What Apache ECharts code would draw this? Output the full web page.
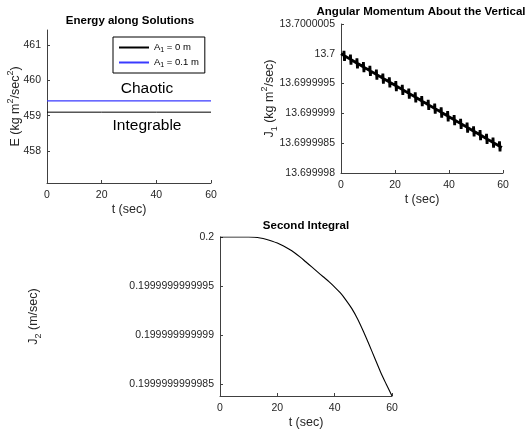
<!DOCTYPE html>
<html>
<head>
<meta charset="utf-8">
<script src="https://cdn.jsdelivr.net/npm/echarts@6/dist/echarts.min.js"></script>
<style>
  html, body { margin: 0; padding: 0; background: #fff; }
  #main { width: 528px; height: 430px; }
</style>
</head>
<body>
<div id="main"></div>
<script>
// --- data ---
// energy (constant along both solutions)
var tE = [0, 20, 40, 60];
var energyA0 = [459.1, 459.1, 459.1, 459.1];
var energyA01 = [459.42, 459.42, 459.42, 459.42];
var energyTicks = [458, 459, 460, 461];

// J1: offset from 13.7, in units of 1e-7 (slow drift with short spikes)
var tJ1 = [0,
  1.0, 1.1, 1.3, 1.4, 3.4, 3.5, 3.7, 3.8, 5.8, 5.9, 6.1, 6.2, 8.2, 8.3, 8.5, 8.6,
  10.6, 10.7, 10.9, 11.0, 13.0, 13.1, 13.3, 13.4, 15.4, 15.5, 15.7, 15.8, 17.8, 17.9, 18.1, 18.2,
  20.2, 20.3, 20.5, 20.6, 22.6, 22.7, 22.9, 23.0, 25.0, 25.1, 25.3, 25.4, 27.4, 27.5, 27.7, 27.8,
  29.8, 29.9, 30.1, 30.2, 32.2, 32.3, 32.5, 32.6, 34.6, 34.7, 34.9, 35.0, 37.0, 37.1, 37.3, 37.4,
  39.4, 39.5, 39.7, 39.8, 41.8, 41.9, 42.1, 42.2, 44.2, 44.3, 44.5, 44.6, 46.6, 46.7, 46.9, 47.0,
  49.0, 49.1, 49.3, 49.4, 51.4, 51.5, 51.7, 51.8, 53.8, 53.9, 54.1, 54.2, 56.2, 56.3, 56.5, 56.6,
  58.6, 58.7, 58.9, 59.0, 59.6];
var j1Dev = [0,
  -0.26, 0.51, -1.19, -0.37, -0.90, -0.13, -1.83, -1.01, -1.53, -0.76, -2.46, -1.64, -2.17, -1.40, -3.10, -2.28,
  -2.80, -2.03, -3.73, -2.91, -3.43, -2.66, -4.36, -3.54, -4.07, -3.30, -5.00, -4.18, -4.70, -3.93, -5.63, -4.81,
  -5.33, -4.56, -6.26, -5.44, -5.97, -5.20, -6.90, -6.08, -6.60, -5.83, -7.53, -6.71, -7.23, -6.46, -8.16, -7.34,
  -7.87, -7.10, -8.80, -7.98, -8.50, -7.73, -9.43, -8.61, -9.13, -8.36, -10.06, -9.24, -9.77, -9.00, -10.70, -9.88,
  -10.40, -9.63, -11.33, -10.51, -11.04, -10.27, -11.97, -11.15, -11.67, -10.90, -12.60, -11.78, -12.30, -11.53, -13.23, -12.41,
  -12.94, -12.17, -13.87, -13.05, -13.57, -12.80, -14.50, -13.68, -14.20, -13.43, -15.13, -14.31, -14.84, -14.07, -15.77, -14.95,
  -15.47, -14.70, -16.40, -15.58, -15.73];
var j1Ticks = [-20, -15, -10, -5, 0, 5];
var j1TickLabels = ['13.699998', '13.6999985', '13.699999', '13.6999995', '13.7', '13.7000005'];

// J2: offset from 0.2, in units of 1e-13
var tJ2 = [0, 5, 10, 12, 14, 16, 18, 20, 22, 24, 26, 28, 30, 32, 34, 36, 38, 40, 42, 44, 46, 48, 50, 52, 54, 56, 58, 60];
var j2Dev = [0, 0, 0, -0.03, -0.1, -0.22, -0.4, -0.62, -0.9, -1.22, -1.6, -2.05, -2.55, -3.05, -3.55, -4.05, -4.55,
  -5.1, -5.7, -6.45, -7.3, -8.35, -9.6, -10.95, -12.35, -13.75, -15.0, -16.2];
var j2Ticks = [-15, -10, -5, 0];
var j2TickLabels = ['0.1999999999985', '0.199999999999', '0.1999999999995', '0.2'];

function pairs(xs, ys) {
  return xs.map(function (x, i) { return [x, ys[i]]; });
}

var FONT = "'Liberation Sans', Arial, Helvetica, sans-serif";
var AX = '#404040';
var TXT = '#262626';
var richName = {
  sup: { fontSize: 9, verticalAlign: 'top', fontFamily: FONT, color: TXT },
  sub: { fontSize: 9, verticalAlign: 'bottom', fontFamily: FONT, color: TXT }
};
var richLeg = {
  sub: { fontSize: 7, verticalAlign: 'bottom', fontFamily: FONT, color: '#000' }
};

function xAx(grid) {
  return {
    type: 'value', gridIndex: grid, min: 0, max: 60, interval: 20,
    name: 't (sec)', nameLocation: 'middle', nameGap: 20, nameMoveOverlap: false,
    nameTextStyle: { fontFamily: FONT, fontSize: 12.5, color: TXT },
    axisLine: { show: true, onZero: false, lineStyle: { color: AX, width: 1 } },
    axisTick: { show: true, inside: true, length: 3, lineStyle: { color: AX } },
    axisLabel: { fontFamily: FONT, fontSize: 10.5, color: TXT, margin: 7 },
    splitLine: { show: false }
  };
}

function yAx(grid, min, max, ticks, fmt, name, gap) {
  return {
    type: 'value', gridIndex: grid, min: min, max: max,
    name: name, nameLocation: 'middle', nameGap: gap, nameRotate: 90, nameMoveOverlap: false,
    nameTextStyle: { fontFamily: FONT, fontSize: 12.5, color: TXT, lineHeight: 19, rich: richName },
    axisLine: { show: true, onZero: false, lineStyle: { color: AX, width: 1 } },
    axisTick: { show: true, inside: true, length: 3, customValues: ticks, lineStyle: { color: AX } },
    axisLabel: { fontFamily: FONT, fontSize: 10.5, color: TXT, margin: 6, customValues: ticks, formatter: fmt },
    splitLine: { show: false }
  };
}

var chart = echarts.init(document.getElementById('main'), null, { renderer: 'canvas' });

chart.setOption({
  animation: false,
  backgroundColor: '#fff',
  grid: [
    { left: 47, top: 30, width: 164, height: 153 },
    { left: 341, top: 24, width: 162, height: 149 },
    { left: 220, top: 237, width: 172, height: 159 }
  ],
  xAxis: [xAx(0), xAx(1), xAx(2)],
  yAxis: [
    yAx(0, 457.1, 461.42, energyTicks, function (v) { return String(v); },
      'E (kg m{sup|2}/sec{sup|2})', 22),
    yAx(1, -20, 5, j1Ticks, function (v) {
      var i = j1Ticks.indexOf(Math.round(v));
      return i >= 0 ? j1TickLabels[i] : '';
    }, 'J{sub|1} (kg m{sup|2}/sec)', 62),
    yAx(2, -16.2, 0, j2Ticks, function (v) {
      var i = j2Ticks.indexOf(Math.round(v));
      return i >= 0 ? j2TickLabels[i] : '';
    }, 'J{sub|2} (m/sec)', 177)
  ],
  legend: {
    left: 113, top: 37, orient: 'vertical',
    data: ['A1 = 0 m', 'A1 = 0.1 m'],
    itemWidth: 30, itemHeight: 10, itemGap: 2,
    padding: [4, 6, 4, 5],
    borderColor: '#000', borderWidth: 1, borderRadius: 0,
    backgroundColor: '#fff',
    itemStyle: { opacity: 0 },
    formatter: function (n) { return n.replace('A1', 'A{sub|1}'); },
    textStyle: { fontFamily: FONT, fontSize: 9.5, color: '#000', lineHeight: 13, rich: richLeg }
  },
  graphic: [
    { type: 'text', x: 130, y: 21, style: { text: 'Energy along Solutions', font: 'bold 11.5px ' + FONT, fill: '#000', textAlign: 'center', textVerticalAlign: 'middle' } },
    { type: 'text', x: 421, y: 12, style: { text: 'Angular Momentum About the Vertical', font: 'bold 11.5px ' + FONT, fill: '#000', textAlign: 'center', textVerticalAlign: 'middle' } },
    { type: 'text', x: 306, y: 226, style: { text: 'Second Integral', font: 'bold 11.5px ' + FONT, fill: '#000', textAlign: 'center', textVerticalAlign: 'middle' } },
    { type: 'text', x: 147, y: 89, style: { text: 'Chaotic', font: '15.5px ' + FONT, fill: '#000', textAlign: 'center', textVerticalAlign: 'middle' } },
    { type: 'text', x: 147, y: 126, style: { text: 'Integrable', font: '15.5px ' + FONT, fill: '#000', textAlign: 'center', textVerticalAlign: 'middle' } }
  ],
  series: [
    { name: 'A1 = 0 m', type: 'line', xAxisIndex: 0, yAxisIndex: 0, data: pairs(tE, energyA0),
      symbol: 'none', lineStyle: { color: '#000', width: 1 }, itemStyle: { color: '#000' } },
    { name: 'A1 = 0.1 m', type: 'line', xAxisIndex: 0, yAxisIndex: 0, data: pairs(tE, energyA01),
      symbol: 'none', lineStyle: { color: '#3a3aff', width: 1.3 }, itemStyle: { color: '#3a3aff' } },
    { name: 'J1', type: 'line', xAxisIndex: 1, yAxisIndex: 1, data: pairs(tJ1, j1Dev),
      symbol: 'none', lineStyle: { color: '#000', width: 2.8, join: 'bevel' } },
    { name: 'J2', type: 'line', xAxisIndex: 2, yAxisIndex: 2, data: pairs(tJ2, j2Dev),
      symbol: 'none', smooth: 0.3, lineStyle: { color: '#000', width: 1.1 } }
  ]
});
</script>
</body>
</html>
